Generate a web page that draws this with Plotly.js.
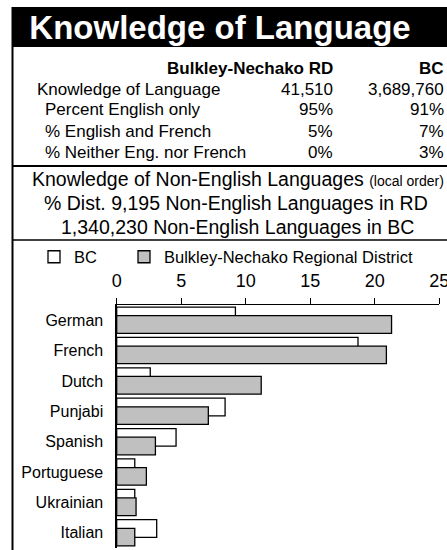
<!DOCTYPE html>
<html>
<head>
<meta charset="utf-8">
<script src="https://cdn.plot.ly/plotly-3.0.1.min.js"></script>
<style>
  html, body { margin: 0; padding: 0; background: #ffffff; }
  #chart { width: 447px; height: 550px; }
</style>
</head>
<body>
<div id="chart"></div>
<script>
// ---- Data ----
var chartTitle = "Knowledge of Language";
var tableHeaders = ["Bulkley-Nechako RD", "BC"];
var tableRowLabels = ["Knowledge of Language", "Percent English only", "% English and French", "% Neither Eng. nor French"];
var rdColumn = ["41,510", "95%", "5%", "0%"];
var bcColumn = ["3,689,760", "91%", "7%", "3%"];
var subtitleLines = [
  "Knowledge of Non-English Languages <span style='font-size:14px'>(local order)</span>",
  "% Dist. 9,195 Non-English Languages in RD",
  "1,340,230 Non-English Languages in BC"
];
var categories = ["German", "French", "Dutch", "Punjabi", "Spanish", "Portuguese", "Ukrainian", "Italian"];
var bcValues = [9.2, 18.7, 2.6, 8.4, 4.6, 1.4, 1.4, 3.1];
var rdValues = [21.3, 20.9, 11.2, 7.1, 3.0, 2.3, 1.5, 1.4];
var seriesNames = ["BC", "Bulkley-Nechako Regional District"];
var xTicks = [0, 5, 10, 15, 20, 25];

// ---- Layout helpers ----
var W = 447, H = 550;
function px(x) { return x / W; }
function py(y) { return 1 - y / H; }
var FONT = 'Arial, "Liberation Sans", sans-serif';

var traces = [
  {
    type: 'bar', orientation: 'h', name: seriesNames[0], legend: 'legend',
    y: categories, x: bcValues,
    width: 0.58, offset: -0.433,
    marker: { color: '#ffffff', line: { color: '#000000', width: 1.3 } }
  },
  {
    type: 'bar', orientation: 'h', name: seriesNames[1], legend: 'legend2',
    y: categories, x: rdValues,
    width: 0.58, offset: -0.147,
    marker: { color: '#c0c0c0', line: { color: '#000000', width: 1.3 } }
  }
];

var annotations = [];
annotations.push({ text: '<b>' + tableHeaders[0] + '</b>', x: px(335), y: py(68), xanchor: 'right', yanchor: 'middle' });
annotations.push({ text: '<b>' + tableHeaders[1] + '</b>', x: px(446), y: py(68), xanchor: 'right', yanchor: 'middle' });
var rowY = [89, 110, 131, 152];
for (var i = 0; i < tableRowLabels.length; i++) {
  annotations.push({ text: tableRowLabels[i], x: px(i === 0 ? 35 : 43), y: py(rowY[i]), xanchor: 'left', yanchor: 'middle' });
  annotations.push({ text: rdColumn[i], x: px(335), y: py(rowY[i]), xanchor: 'right', yanchor: 'middle' });
  annotations.push({ text: bcColumn[i], x: px(446), y: py(rowY[i]), xanchor: 'right', yanchor: 'middle' });
}
annotations.forEach(function (a) {
  a.xref = 'paper'; a.yref = 'paper'; a.showarrow = false;
  a.font = { family: FONT, size: 17, color: '#000000' };
});
var subY = [179, 203, 227];
var subX = [238, 236, 237];
for (var j = 0; j < subtitleLines.length; j++) {
  annotations.push({
    text: subtitleLines[j], xref: 'paper', yref: 'paper', x: px(subX[j]), y: py(subY[j]),
    xanchor: 'center', yanchor: 'middle', showarrow: false,
    font: { family: FONT, size: 19.5, color: '#000000' }
  });
}

var shapes = [
  { type: 'rect', xref: 'paper', yref: 'paper', x0: px(12), x1: 1, y0: py(47), y1: py(7), fillcolor: '#000000', line: { width: 0 }, layer: 'below' },
  { type: 'line', xref: 'paper', yref: 'paper', x0: px(12.5), x1: px(12.5), y0: py(7), y1: 0, line: { color: '#000000', width: 2 } },
  { type: 'line', xref: 'paper', yref: 'paper', x0: px(12), x1: 1, y0: py(166), y1: py(166), line: { color: '#000000', width: 2 } },
  { type: 'line', xref: 'paper', yref: 'paper', x0: px(12), x1: 1, y0: py(240), y1: py(240), line: { color: '#000000', width: 1.5 } }
];

var legendBase = {
  orientation: 'h', xanchor: 'left', y: py(257), yanchor: 'middle',
  font: { family: FONT, size: 16.5, color: '#000000' },
  bgcolor: 'rgba(0,0,0,0)', borderwidth: 0
};

var layout = {
  width: W, height: H, autosize: false,
  margin: { l: 0, r: 0, t: 0, b: 0, pad: 0 },
  paper_bgcolor: '#ffffff', plot_bgcolor: 'rgba(0,0,0,0)',
  font: { family: FONT, color: '#000000' },
  title: {
    text: '<b>' + chartTitle + '</b>',
    x: px(220), xanchor: 'center', y: py(27), yanchor: 'middle',
    font: { family: FONT, size: 33, color: '#ffffff' }
  },
  barmode: 'overlay',
  showlegend: true,
  legend: Object.assign({}, legendBase, { x: px(34) }),
  legend2: Object.assign({}, legendBase, { x: px(124) }),
  xaxis: {
    domain: [px(116.7), px(439.3)], range: [0, 25], autorange: false,
    side: 'top', tickvals: xTicks, ticktext: xTicks.map(String),
    ticks: 'outside', ticklen: 6, tickwidth: 1, tickcolor: '#000000',
    showline: true, linecolor: '#000000', linewidth: 1.3,
    showgrid: false, zeroline: false, fixedrange: true,
    tickfont: { family: FONT, size: 18, color: '#000000' },
    ticklabelstandoff: 4, ticklabeloverflow: 'allow'
  },
  yaxis: {
    domain: [py(548), py(305)], type: 'category',
    categoryorder: 'array', categoryarray: categories,
    range: [7.5, -0.5], autorange: false,
    ticks: '', showline: true, linecolor: '#000000', linewidth: 1.3,
    showgrid: false, zeroline: false, fixedrange: true,
    tickfont: { family: FONT, size: 16, color: '#000000' },
    ticklabelstandoff: 9
  },
  annotations: annotations,
  shapes: shapes
};

Plotly.newPlot('chart', traces, layout, { staticPlot: true, displayModeBar: false });
</script>
</body>
</html>
